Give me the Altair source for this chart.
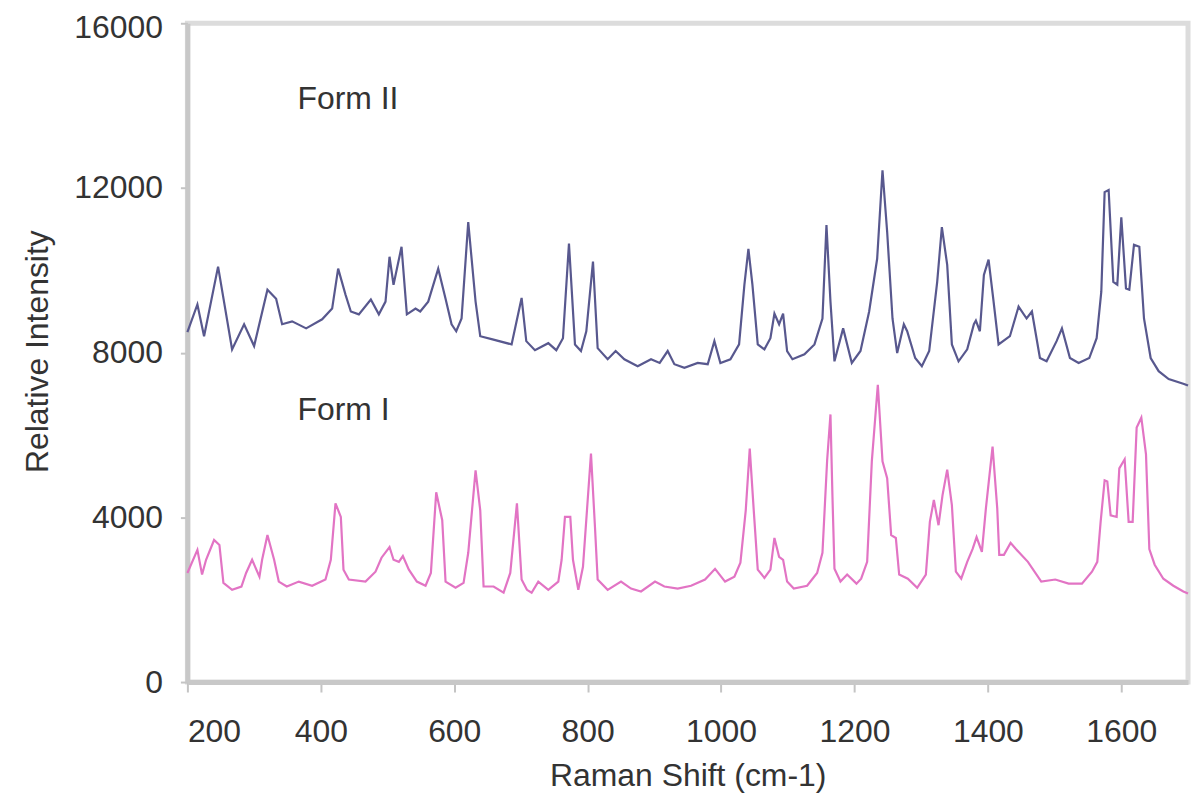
import altair as alt
import pandas as pd

# Form II spectrum (Raman shift, relative intensity)
form2_x = [200, 215, 225, 246, 267, 285, 300, 320, 333, 342, 357, 378, 402, 417, 426, 437, 445, 457, 475, 487,
           497, 503, 509, 521, 529, 542, 549, 561, 576, 587, 596, 603, 611, 621, 632, 639, 656, 686, 701, 708,
           721, 741, 753, 763, 772, 781, 790, 798, 808, 815, 830, 842, 855, 875, 895, 908, 920, 930, 945, 965,
           980, 990, 999, 1014, 1027, 1035, 1041, 1047, 1055, 1065, 1074, 1080, 1087, 1093, 1099, 1107, 1125,
           1140, 1152, 1158, 1164, 1170, 1183, 1196, 1209, 1222, 1234, 1242, 1249, 1257, 1264, 1274, 1279, 1291,
           1301, 1312, 1324, 1331, 1339, 1346, 1356, 1369, 1379, 1382, 1388, 1394, 1401, 1408, 1416, 1433, 1446,
           1458, 1466, 1478, 1488, 1503, 1511, 1523, 1536, 1552, 1563, 1570, 1575, 1581, 1588, 1594, 1600, 1607,
           1612, 1619, 1627, 1634, 1644, 1656, 1671, 1694, 1700]
form2_y = [8500, 9170, 8400, 10090, 8080, 8690, 8160, 9530, 9310, 8690, 8760, 8590, 8810, 9070, 10040, 9410, 9000,
           8930, 9290, 8930, 9240, 10330, 9650, 10570, 8930, 9070, 9000, 9240, 10040, 9310, 8690, 8520, 8830, 11170,
           9240, 8400, 8330, 8200, 9330, 8280, 8060, 8230, 8060, 8350, 10650, 8200, 8040, 8520, 10210, 8110, 7840,
           8040, 7840, 7670, 7840, 7750, 8040, 7720, 7630, 7750, 7720, 8280, 7750, 7840, 8200, 9650, 10520, 9650,
           8200, 8080, 8350, 8950, 8690, 8950, 8040, 7840, 7960, 8200, 8830, 11100, 9240, 7790, 8590, 7750, 8040,
           9000, 10280, 12430, 10930, 8830, 7990, 8690, 8520, 7870, 7670, 8040, 9720, 11050, 10130, 8200, 7790,
           8080, 8690, 8780, 8520, 9890, 10260, 9310, 8200, 8400, 9120, 8830, 9000, 7870, 7790, 8280, 8590, 7870,
           7750, 7870, 8350, 9480, 11900, 11950, 9720, 9650, 11290, 9560, 9530, 10620, 10570, 8830, 7870, 7550,
           7360, 7240, 7200]

# Form I spectrum
form1_x = [200, 215, 222, 228, 240, 248, 254, 267, 281, 288, 297, 308, 312, 320, 330, 337, 349, 367, 387, 407,
           415, 422, 430, 434, 442, 467, 482, 491, 503, 509, 517, 523, 532, 544, 557, 565, 573, 582, 587, 602,
           614, 621, 632, 639, 644, 659, 674, 684, 694, 701, 709, 716, 726, 741, 756, 761, 766, 774, 778, 786,
           793, 805, 811, 815, 830, 850, 865, 880, 901, 915, 935, 955, 976, 991, 1006, 1020, 1029, 1037, 1043,
           1049, 1055, 1065, 1074, 1080, 1087, 1093, 1099, 1109, 1129, 1144, 1152, 1159, 1164, 1167, 1170, 1179,
           1189, 1203, 1210, 1219, 1226, 1235, 1242, 1249, 1255, 1262, 1267, 1280, 1294, 1307, 1313, 1319, 1326,
           1332, 1339, 1346, 1352, 1360, 1369, 1377, 1383, 1391, 1397, 1407, 1414, 1417, 1424, 1434, 1442, 1460,
           1480, 1501, 1521, 1541, 1556, 1564, 1569, 1575, 1579, 1584, 1593, 1597, 1605, 1611, 1617, 1623, 1630,
           1637, 1642, 1650, 1663, 1678, 1693, 1700]
form1_y = [2650, 3210, 2610, 2970, 3450, 3330, 2410, 2240, 2320, 2650, 2970, 2560, 2970, 3570, 2970, 2440, 2320,
           2440, 2340, 2490, 2970, 4340, 4010, 2730, 2490, 2440, 2680, 3020, 3280, 2970, 2920, 3060, 2730, 2440,
           2340, 2650, 4610, 3930, 2440, 2290, 2410, 3140, 5140, 4170, 2320, 2320, 2170, 2650, 4340, 2490, 2240,
           2170, 2440, 2240, 2440, 2970, 4010, 4010, 2970, 2240, 2800, 5550, 3760, 2490, 2240, 2440, 2270, 2200,
           2440, 2320, 2270, 2340, 2490, 2750, 2440, 2560, 2900, 4170, 5670, 4170, 2730, 2530, 2730, 3500, 3040,
           2970, 2440, 2270, 2340, 2650, 3140, 5380, 6500, 4500, 2750, 2440, 2610, 2390, 2510, 2920, 5360, 7220,
           5360, 4950, 3570, 3500, 2610, 2510, 2290, 2610, 3890, 4420, 3810, 4540, 5160, 4300, 2680, 2510, 2920,
           3230, 3520, 3160, 4220, 5720, 4220, 3090, 3090, 3380, 3230, 2920, 2440, 2490, 2390, 2390, 2680, 2920,
           3890, 4900, 4870, 4050, 4010, 5190, 5410, 3890, 3890, 6180, 6420, 5530, 3230, 2850, 2510, 2340, 2200,
           2150]

series_names = ["Form II", "Form I"]
series_colors = ["#58588e", "#e274c4"]

x_ticks = [200, 400, 600, 800, 1000, 1200, 1400, 1600]
y_ticks = [0, 4000, 8000, 12000, 16000]

label_text = ["Form II", "Form I"]
label_x = [365, 365]
label_y = [14150, 6600]

df = pd.concat([
    pd.DataFrame({"shift": form2_x, "intensity": form2_y, "form": "Form II"}),
    pd.DataFrame({"shift": form1_x, "intensity": form1_y, "form": "Form I"}),
], ignore_index=True)

labels_df = pd.DataFrame({"text": label_text, "x": label_x, "y": label_y})

FONT = "Liberation Sans"
FS = 32

x_scale = alt.Scale(domain=[200, 1700], nice=False, zero=False)
y_scale = alt.Scale(domain=[0, 16000], nice=False)

lines = alt.Chart(df).mark_line(strokeWidth=2.2).encode(
    x=alt.X("shift:Q", scale=x_scale,
            axis=alt.Axis(title="Raman Shift (cm-1)", values=x_ticks, format="d",
                          titleX=502, titleY=94, titleBaseline="middle")),
    y=alt.Y("intensity:Q", scale=y_scale,
            axis=alt.Axis(title="Relative Intensity", values=y_ticks, format="d",
                          labelOffset={"condition": {"test": "datum.value === 16000", "value": 4}, "value": 0},
                          titleX=-150, titleY=329, titleAngle=-90,
                          titleAlign="center", titleBaseline="middle")),
    color=alt.Color("form:N", scale=alt.Scale(domain=series_names, range=series_colors), legend=None),
    detail="form:N",
)

texts = alt.Chart(labels_df).mark_text(
    align="left", baseline="middle", font=FONT, fontSize=FS, color="#333333"
).encode(
    x=alt.X("x:Q", scale=x_scale),
    y=alt.Y("y:Q", scale=y_scale),
    text="text:N",
)

chart = alt.layer(lines, texts).properties(
    width=1004, height=661,
    padding={"left": 180, "top": 14, "right": 6, "bottom": 110},
    autosize=alt.AutoSizeParams(type="none"),
).configure_view(
    stroke="#dcdcdc", strokeWidth=5
).configure_axis(
    grid=False,
    domainColor="#c8c8c8", domainWidth=5,
    tickColor="#c4c4c4", tickWidth=2,
    labelFont=FONT, labelFontSize=FS, labelColor="#333333",
    titleFont=FONT, titleFontSize=FS, titleColor="#333333", titleFontWeight="normal",
).configure_axisX(
    tickSize=10, labelPadding=25,
).configure_axisY(
    tickSize=7, labelPadding=18,
)

chart.save("out.html", embed_options={"renderer": "svg", "actions": False})
